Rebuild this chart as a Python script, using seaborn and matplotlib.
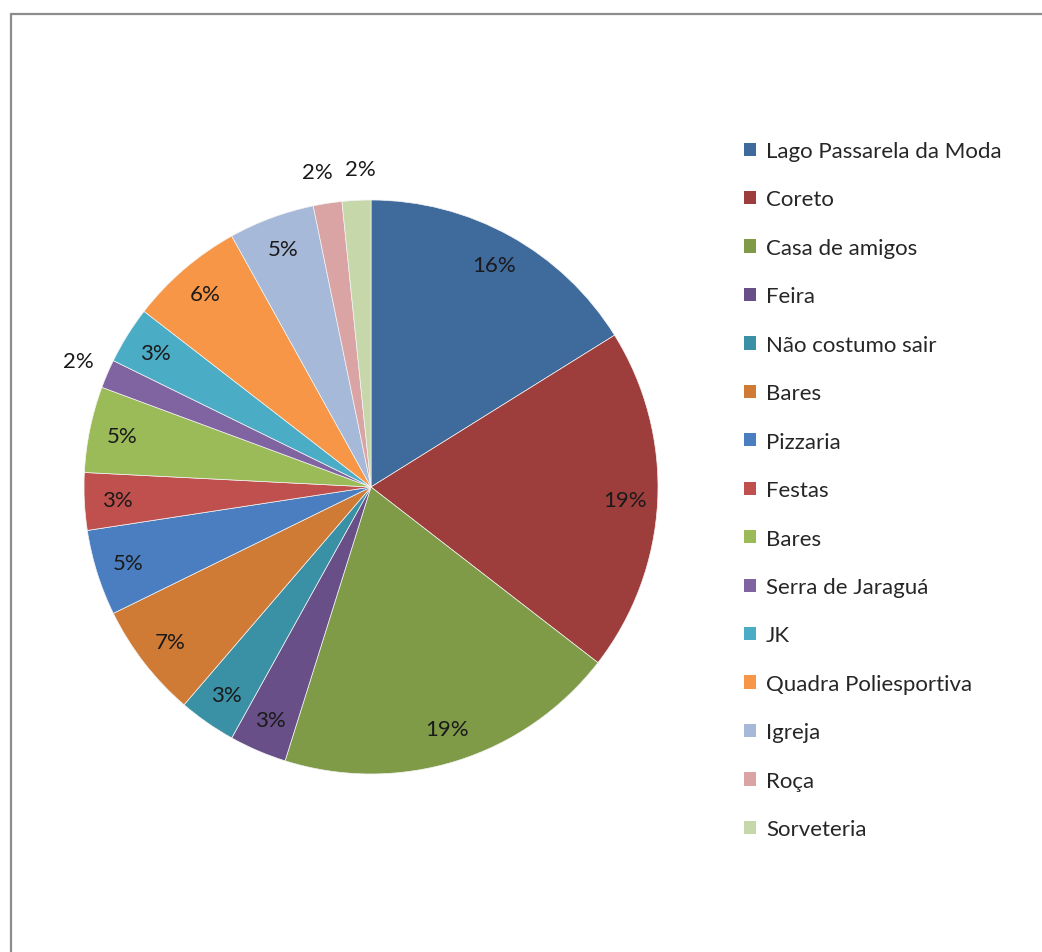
import numpy as np
import matplotlib
matplotlib.use("Agg")
import matplotlib.pyplot as plt
import seaborn as sns
from matplotlib.patches import Patch, Rectangle

places = ["Lago Passarela da Moda", "Coreto", "Casa de amigos", "Feira",
          "Não costumo sair", "Bares", "Pizzaria", "Festas", "Bares",
          "Serra de Jaraguá", "JK", "Quadra Poliesportiva", "Igreja",
          "Roça", "Sorveteria"]
counts = [10, 12, 12, 2, 2, 4, 3, 2, 3, 1, 2, 4, 3, 1, 1]
# percentage labels as printed on the chart
pct_labels = ["16%", "19%", "19%", "3%", "3%", "7%", "5%", "3%", "5%",
              "2%", "3%", "6%", "5%", "2%", "2%"]
colors = ["#3F6A9C", "#9E3E3C", "#7F9B47", "#684F88", "#3A90A5", "#CF7B35",
          "#4A7EC0", "#C0504D", "#9BBB59", "#8064A2", "#4BACC6", "#F79646",
          "#A6B9D8", "#D9A4A3", "#C6D7AA"]

sns.set_theme(style="white")
plt.rcParams["font.family"] = ["Lato", "DejaVu Sans"]

fig = plt.figure(figsize=(10.42, 9.53), dpi=100)
ax = fig.add_axes([84 / 1042, 178 / 953, 574 / 1042, 574 / 953])

wedges, _ = ax.pie(counts, colors=colors, startangle=90, counterclock=False,
                   radius=1.0, wedgeprops=dict(edgecolor="#f4f4f4", linewidth=0.5))
ax.set_xlim(-1, 1)
ax.set_ylim(-1, 1)
ax.set_aspect("equal")
ax.axis("off")

# labels: inside for bigger slices, just outside for the tiny ones
# (the two tiny ones at the top are pushed apart a little so they don't touch)
outside = [i for i, c in enumerate(counts) if c == 1]
for i, (w, lab) in enumerate(zip(wedges, pct_labels)):
    mid = np.deg2rad((w.theta1 + w.theta2) / 2)
    if i in outside:
        r = 1.11
        nudge = {outside[1]: -4, outside[2]: 4}.get(i, 0)
    else:
        r = 0.885
        nudge = 0
    ax.annotate(lab, (r * np.cos(mid), r * np.sin(mid)), xytext=(nudge, 0),
                textcoords="offset points", ha="center", va="center",
                fontsize=16, color="#1a1a1a", annotation_clip=False)

handles = [Patch(facecolor=c, edgecolor="none", label=p) for p, c in zip(places, colors)]
fig.legend(handles=handles, loc="upper left", bbox_to_anchor=(744 / 1042, 1 - 142 / 953),
           frameon=False, fontsize=16, labelspacing=1.28, handlelength=0.54,
           handleheight=0.54, handletextpad=0.45, borderpad=0, borderaxespad=0)

# chart area border (runs off the right and bottom edges)
fig.add_artist(Rectangle((11 / 1042, -0.05), 1.1, 1 - 15 / 953 + 0.05,
                         transform=fig.transFigure, fill=False,
                         edgecolor="#8c8c8c", linewidth=1.6))

fig.savefig("out.png", dpi=100, facecolor="white")
